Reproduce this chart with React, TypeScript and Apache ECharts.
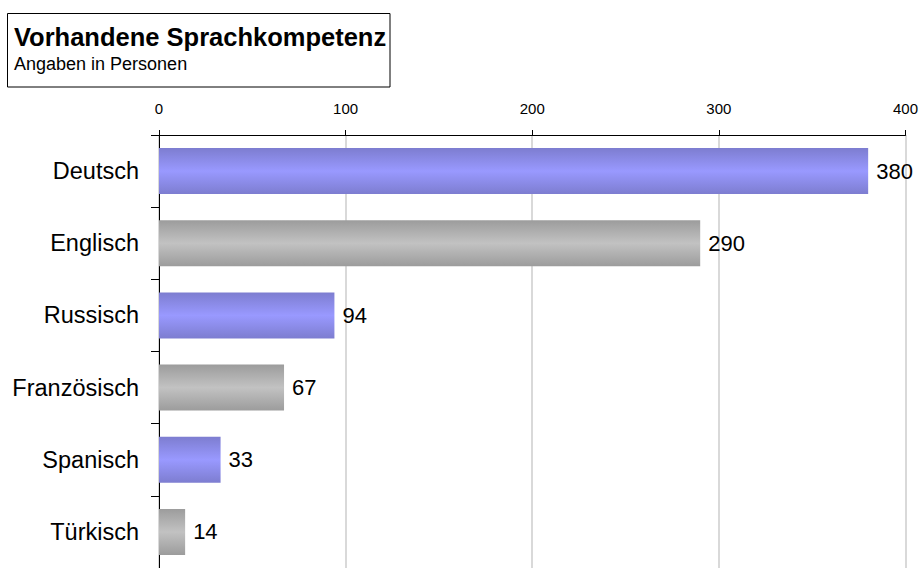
import React, { useEffect, useRef } from "react";
import * as echarts from "echarts";

const categories = ["Deutsch", "Englisch", "Russisch", "Französisch", "Spanisch", "Türkisch"];
const values = [380, 290, 94, 67, 33, 14];
const titleText = "Vorhandene Sprachkompetenz";
const subtitleText = "Angaben in Personen";

const FONT = "'Liberation Sans', Arial, Helvetica, sans-serif";

const purple = new echarts.graphic.LinearGradient(0, 0, 0, 1, [
  { offset: 0, color: "#7d7dd0" },
  { offset: 0.5, color: "#9999ff" },
  { offset: 1, color: "#7d7dd0" },
]);
const gray = new echarts.graphic.LinearGradient(0, 0, 0, 1, [
  { offset: 0, color: "#9c9c9c" },
  { offset: 0.5, color: "#c2c2c2" },
  { offset: 1, color: "#9c9c9c" },
]);

export default function App() {
  const ref = useRef<HTMLDivElement>(null);
  useEffect(() => {
    if (!ref.current) return;
    const chart = echarts.init(ref.current, null, { renderer: "svg" });
    chart.setOption({
      animation: false,
      backgroundColor: "#ffffff",
      title: {
        text: titleText,
        subtext: subtitleText,
        left: 14,
        top: 24,
        padding: 0,
        itemGap: 5,
        textStyle: { fontFamily: FONT, fontSize: 25.5, fontWeight: "bold", color: "#000" },
        subtextStyle: { fontFamily: FONT, fontSize: 18, color: "#000" },
      },
      graphic: [
        {
          type: "rect",
          shape: { x: 7.5, y: 13.5, width: 382.5, height: 73.5 },
          style: { fill: "none", stroke: "#000", lineWidth: 1 },
          z: -1,
        },
      ],
      grid: { left: 159, right: 14, top: 135, bottom: -7, containLabel: false },
      xAxis: {
        type: "value",
        position: "top",
        min: 0,
        max: 400,
        interval: 100,
        axisLine: { show: true, lineStyle: { color: "#000", width: 1 } },
        axisTick: { show: true, length: 5, lineStyle: { color: "#000" } },
        axisLabel: { fontFamily: FONT, fontSize: 15, color: "#000", margin: 19 },
        splitLine: { show: true, lineStyle: { color: "#cccccc", width: 1.5 } },
      },
      yAxis: {
        type: "category",
        inverse: true,
        data: categories,
        axisLine: { show: true, lineStyle: { color: "#000", width: 1 } },
        axisTick: { show: true, length: 8, lineStyle: { color: "#000" } },
        axisLabel: { fontFamily: FONT, fontSize: 23.5, color: "#000", margin: 20 },
        splitLine: { show: false },
      },
      series: [
        {
          type: "bar",
          barWidth: 46,
          data: values.map((v, i) => ({
            value: v,
            itemStyle: { color: i % 2 === 0 ? purple : gray },
          })),
          label: {
            show: true,
            position: "right",
            distance: 8,
            fontFamily: FONT,
            fontSize: 22,
            color: "#000",
          },
        },
      ],
    });
    return () => chart.dispose();
  }, []);
  return (
    <div
      ref={ref}
      style={{ position: "fixed", left: 0, top: 0, width: 921, height: 568 }}
    />
  );
}
